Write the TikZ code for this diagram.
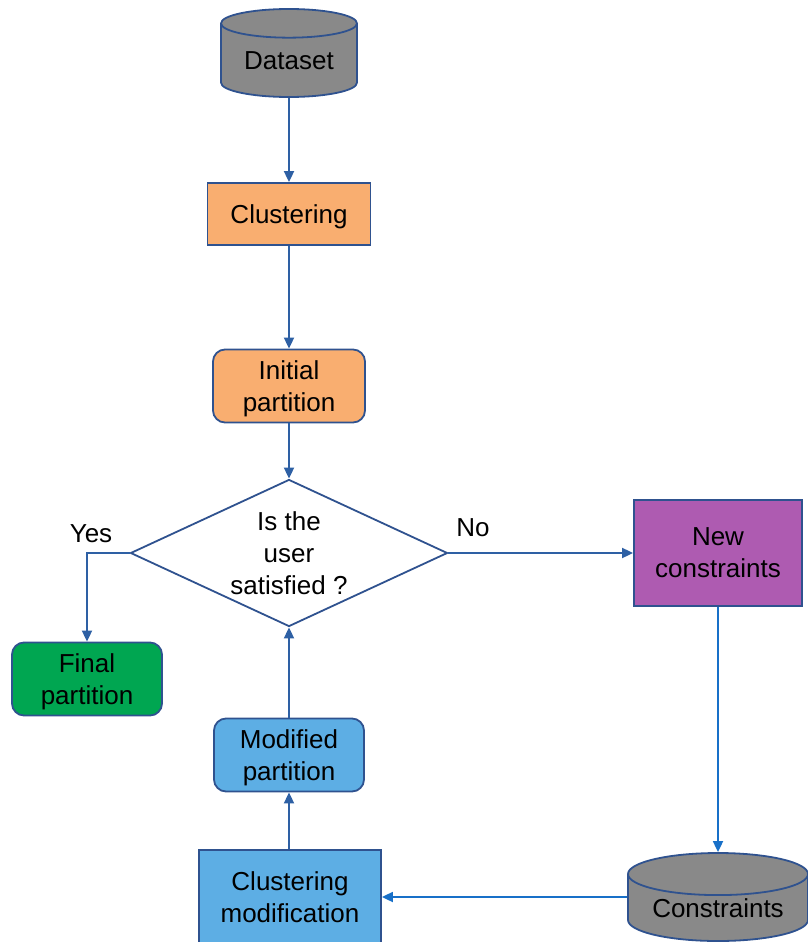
\documentclass[tikz,border=0pt]{standalone}
\usepackage{fontspec}
\setmainfont{Liberation Sans}
\usepackage{tikz}
\usetikzlibrary{arrows.meta, shapes.geometric}

\definecolor{boxline}{RGB}{47,82,143}
\definecolor{arrowline}{RGB}{46,96,164}
\definecolor{brightline}{RGB}{24,112,200}
\definecolor{dbgray}{RGB}{137,137,137}
\definecolor{procorange}{RGB}{249,174,112}
\definecolor{finalgreen}{RGB}{0,166,81}
\definecolor{newpurple}{RGB}{174,91,177}
\definecolor{modblue}{RGB}{93,174,228}

\tikzset{
	base/.style={draw=boxline, line width=1.8pt, align=center, inner sep=0pt, text depth=0pt,
		font=\fontsize{26}{32}\selectfont},
	dbase/.style={base, cylinder, shape border rotate=90, aspect=0.32, fill=dbgray, anchor=shape center},
	procbox/.style={base, rectangle},
	resbox/.style={base, rectangle, rounded corners=12pt},
	decide/.style={base, diamond, aspect=2.16, fill=white},
	flow/.style={draw=arrowline, line width=1.8pt, -{Triangle[length=11pt,width=10pt]}},
	flowb/.style={flow, draw=brightline, -{Triangle[length=11pt,width=10pt,fill=brightline]}},
	lbl/.style={font=\fontsize{26}{32}\selectfont, inner sep=0pt}
}

\begin{document}
\begin{tikzpicture}[x=1pt, y=-1pt, >=Triangle]
	\useasboundingbox (0,0) rectangle (807,942);

	\draw
		(289,53) node[dbase, minimum width=136pt, minimum height=88pt] (data) {Dataset}
		(289,214) node[procbox, fill=procorange, minimum width=163pt, minimum height=62pt] (clust) {Clustering}
		(289,386) node[resbox, fill=procorange, minimum width=152pt, minimum height=73pt] (init) {Initial\\partition}
		(289,553) node[decide, minimum width=317pt, minimum height=147pt] (sat) {Is the\\user\\satisfied ?}

		(87,679) node[resbox, fill=finalgreen, minimum width=150pt, minimum height=73pt] (final) {Final\\partition}
		(718,553) node[procbox, fill=newpurple, minimum width=168pt, minimum height=106pt] (newc) {New\\constraints}

		(718,897) node[dbase, minimum width=180pt, minimum height=88pt] (cons) {Constraints}
		(290,897) node[procbox, fill=modblue, minimum width=182pt, minimum height=94pt] (cmod) {Clustering\\modification}
		(289,755) node[resbox, fill=modblue, minimum width=150pt, minimum height=73pt] (modp) {Modified\\partition};

	% main line
	\draw[flow] (data.south) -- (clust.north);
	\draw[flow] (clust) -- (init);
	\draw[flow] (init) -- (sat);

	% answers
	\draw[flow] (sat.west) -| (final.north);
	\draw[flow] (sat.east) -- (newc.west);
	\node[lbl] (yes) at (91,534) {Yes};
	\node[lbl] (no) at (473,528) {No};

	% loop back
	\draw[flowb] (newc.south) -- (cons.north);
	\draw[flowb] (cons.west |- cmod.east) -- (cmod.east);
	\draw[flow] (cmod.north -| modp.south) -- (modp.south);
	\draw[flow] (modp.north) -- (sat.south);
\end{tikzpicture}
\end{document}
